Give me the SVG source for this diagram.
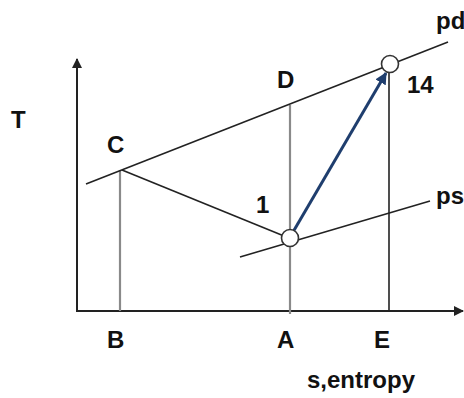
<svg xmlns="http://www.w3.org/2000/svg" width="464" height="398" viewBox="0 0 464 398">
<style>
.lbl{font-family:"Liberation Sans",Arial,sans-serif;font-weight:bold;font-size:24px;fill:#111}
.ax{stroke:#222;stroke-width:2;fill:none}
.gray{stroke:#8a8a8a;stroke-width:2.2;fill:none}
.thin{stroke:#222;stroke-width:1.6;fill:none}
.pt{fill:#fff;stroke:#333;stroke-width:1.6}
</style>
<defs>
<marker id="axh" viewBox="0 0 10 10" refX="9" refY="5" markerWidth="5" markerHeight="5" orient="auto"><path d="M0,0L10,5L0,10z" fill="#222"/></marker>
<marker id="bh" viewBox="0 0 10 10" refX="9" refY="5" markerWidth="4" markerHeight="4" orient="auto"><path d="M0,0L10,5L0,10z" fill="#1f3e6e"/></marker>
</defs>
<rect width="464" height="398" fill="#fff"/>
<g id="connectors">
<line class="ax" x1="77" y1="312" x2="77" y2="59" marker-end="url(#axh)"/>
<line class="ax" x1="76" y1="311" x2="463" y2="311" marker-end="url(#axh)"/>
<line class="gray" x1="120" y1="170" x2="120" y2="311"/>
<line class="gray" x1="290" y1="105" x2="290" y2="314"/>
<line class="thin" x1="389" y1="66" x2="389" y2="311"/>
<line class="thin" x1="86" y1="184" x2="448" y2="42"/>
<line class="thin" x1="240" y1="257" x2="430" y2="201"/>
<line class="thin" x1="122" y1="170" x2="284" y2="236"/>
<line x1="293" y1="232" x2="386" y2="73" stroke="#1f3e6e" stroke-width="3" marker-end="url(#bh)"/>
</g>
<g id="n1"><circle class="pt" cx="290" cy="238" r="8.5"/><text class="lbl" x="256" y="213">1</text></g>
<g id="n14"><circle class="pt" cx="390" cy="64" r="8.5"/><text class="lbl" x="407" y="93">14</text></g>
<g id="nT"><text class="lbl" x="11" y="128">T</text></g>
<g id="nC"><text class="lbl" x="107" y="153">C</text></g>
<g id="nD"><text class="lbl" x="277" y="88">D</text></g>
<g id="npd"><text class="lbl" x="436" y="29">pd</text></g>
<g id="nps"><text class="lbl" x="436" y="204">ps</text></g>
<g id="nB"><text class="lbl" x="107" y="348">B</text></g>
<g id="nA"><text class="lbl" x="277" y="348">A</text></g>
<g id="nE"><text class="lbl" x="374" y="348">E</text></g>
<g id="nS"><text class="lbl" x="307" y="388" font-size="23" textLength="108" lengthAdjust="spacingAndGlyphs">s,entropy</text></g>
</svg>
